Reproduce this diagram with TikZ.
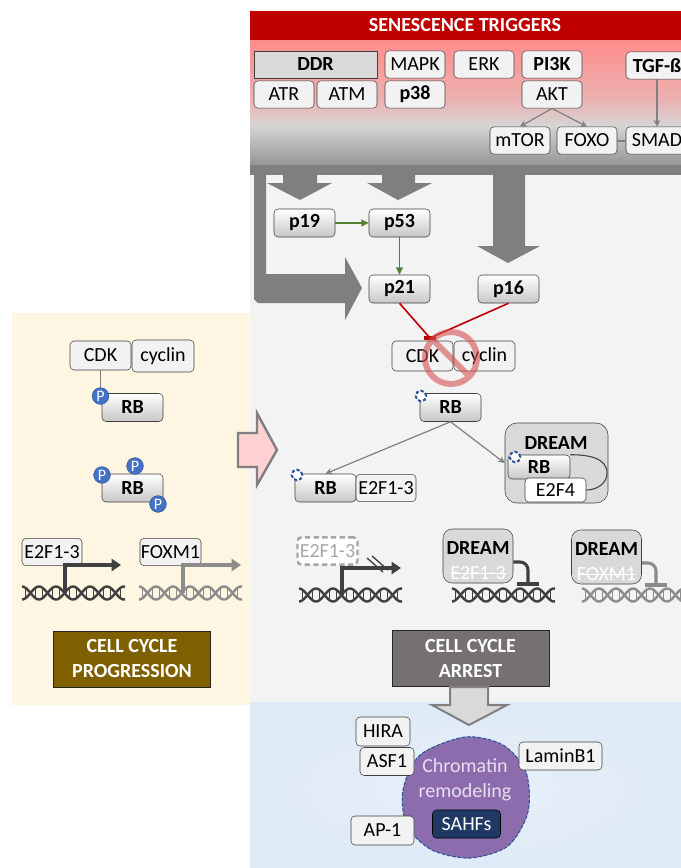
\documentclass[tikz,border=0pt]{standalone}
\usepackage{fontspec}
\setmainfont{Carlito}
\usetikzlibrary{arrows.meta}

\newsavebox\strikebox
\newcommand\struck[1]{\sbox\strikebox{#1}\rlap{\rule[0.3em]{\wd\strikebox}{0.8pt}}\usebox\strikebox}

\definecolor{trigred}{RGB}{192,0,0}
\definecolor{hdpink}{RGB}{255,140,140}
\definecolor{hdmid}{RGB}{236,178,178}
\definecolor{hdlight}{RGB}{215,212,212}
\definecolor{hddark}{RGB}{150,150,150}
\definecolor{boxfill}{RGB}{242,242,242}
\definecolor{boxline}{RGB}{64,64,64}
\definecolor{panelgray}{RGB}{243,243,243}
\definecolor{panelbeige}{RGB}{254,245,226}
\definecolor{panelblue}{RGB}{222,234,246}
\definecolor{glowblue}{RGB}{232,240,250}
\definecolor{bigarrow}{RGB}{127,127,127}
\definecolor{pgreen}{RGB}{84,130,53}
\definecolor{pblue}{RGB}{68,114,196}
\definecolor{pbluedark}{RGB}{47,85,151}
\definecolor{progbrown}{RGB}{127,96,0}
\definecolor{arrestgray}{RGB}{118,113,113}
\definecolor{dreamgray}{RGB}{217,217,217}
\definecolor{dnadark}{RGB}{64,64,64}
\definecolor{dnalight}{RGB}{140,140,140}
\definecolor{nored}{RGB}{214,80,80}
\definecolor{pinkarrow}{RGB}{255,204,204}
\definecolor{chromviolet}{RGB}{140,108,172}
\definecolor{chromtext}{RGB}{232,222,242}
\definecolor{sahfblue}{RGB}{31,56,100}

\tikzset{
  prot/.style={draw=boxline, fill=boxfill, rounded corners=3pt, minimum width=45pt,
    minimum height=20.5pt, inner sep=0pt, font=\fontsize{15}{18}\selectfont},
  protbold/.style={prot, font=\fontsize{15}{18}\selectfont\bfseries},
  protshade/.style={protbold, minimum width=45.75pt, minimum height=21pt, top color=white, bottom color=black!22},
  phos/.style={circle, draw=pbluedark, fill=pblue, text=white, minimum size=12.5pt, inner sep=0pt,
    font=\fontsize{12}{13}\selectfont},
  unphos/.style={circle, draw=pbluedark, dash pattern=on 2.5pt off 1.5pt, line width=1.5pt, fill=white,
    minimum size=8pt, inner sep=0pt},
  ghost/.style={prot, draw=black!35, dash pattern=on 4pt off 2.5pt, line width=1.8pt, fill=white, text=black!35},
  dreambox/.style={draw=boxline, fill=dreamgray, rounded corners=7pt, minimum width=52.5pt,
    minimum height=40.5pt, inner sep=0pt},
  dreamtext/.style={align=center, font=\fontsize{15}{18.75}\selectfont},
  outcome/.style={draw=black!85, minimum width=118pt, minimum height=42pt, align=center, text=white,
    font=\fontsize{15}{18.75}\selectfont\bfseries},
  link/.style={draw=black!50, line width=0.9pt, -{Stealth[length=5pt,width=5pt]}},
  act/.style={draw=pgreen, line width=1.1pt, -{Triangle[length=5.5pt,width=5pt]}},
  inhib/.style={draw=trigred, line width=1.2pt},
  promoter/.style={line width=2.3pt, -{Triangle[length=7pt,width=9pt]}},
  repress/.style={line width=2.3pt, rounded corners=6pt},
  helix/.pic={
    \draw[line width=1.8pt] plot[domain=0:103,samples=90,smooth] (\x,{6.5*cos(\x/34*360)})
      plot[domain=0:103,samples=90,smooth] (\x,{-6.5*cos(\x/34*360)});
    \foreach \r in {3.5,13.5,20.5,30.5,37.5,47.5,54.5,64.5,71.5,81.5,88.5,98.5}
      \draw[line width=1.3pt] (\r,-5) -- (\r,5);
  }
}

\begin{document}
\begin{tikzpicture}[x=0.75pt,y=-0.75pt]
  \useasboundingbox (0,0) rectangle (681,868);
  \fill[white] (0,0) rectangle (681,868);
  \fill[panelbeige] (12,313) rectangle (250,705);
  \fill[panelgray] (250,165) rectangle (681,702);
  \fill[panelblue] (250,702) rectangle (681,868);
  \shade[inner color=glowblue, outer color=panelblue] (465,790) ellipse[x radius=210, y radius=78];
  \fill[trigred] (250,11) rectangle (681,40);
  \shade[top color=hdpink, bottom color=hdmid] (250,40) rectangle (681,100);
  \shade[top color=hdmid, bottom color=hdlight] (250,100) rectangle (681,125);
  \shade[top color=hdlight, bottom color=hddark] (250,125) rectangle (681,165);
  \fill[bigarrow] (250,165) rectangle (681,175);

  \fill[bigarrow] (283,175) -- (317,175) -- (317,183) -- (332,183) -- (300,200) -- (267,183) -- (283,183) -- cycle;
  \fill[bigarrow] (382,175) -- (415,175) -- (415,183) -- (432,183) -- (398,200) -- (367,183) -- (382,183) -- cycle;
  \fill[bigarrow] (493,175) -- (525,175) -- (525,246) -- (540,246) -- (508,263) -- (477,246) -- (493,246) -- cycle;
  \fill[bigarrow] (254,175) -- (266,175) -- (266,274) -- (345,274) -- (345,257) -- (362,288)
    -- (345,320) -- (345,303) -- (258,303) -- (254,299) -- cycle;

  \node[font=\fontsize{15}{18}\selectfont\bfseries, text=white] (title) at (465,25) {SENESCENCE TRIGGERS};
  \node[protbold, rounded corners=0pt, fill=dreamgray, minimum width=92.25pt] (ddr) at (315.5,64.5) {DDR};
  \node[prot] (atr) at (284,94.5) {ATR};
  \node[prot] (atm) at (347,94.5) {ATM};
  \node[prot] (mapk) at (415,64.5) {MAPK};
  \node[protbold] (p38) at (415,94.5) {p38};
  \node[prot] (erk) at (484,64.5) {ERK};
  \node[protbold] (pi3k) at (552,64.5) {PI3K};
  \node[prot] (akt) at (552,94.5) {AKT};
  \node[protbold, minimum width=46.5pt] (tgf) at (657,65.5) {TGF-ß};
  \node[prot] (mtor) at (520,140.5) {mTOR};
  \node[prot] (foxo) at (587,140.5) {FOXO};
  \node[prot, minimum width=46.5pt] (smad) at (657,140.5) {SMAD};
  \draw[link] (akt.south) -- (mtor.north);
  \draw[link] (akt.south) -- (foxo.north);
  \draw[link] (tgf.south) -- (smad.north);
  \draw[black!50, line width=1.5pt] (foxo.east) -- (smad.west);

  \node[protshade] (p19) at (304.5,223) {p19};
  \node[protshade] (p53) at (399.5,223) {p53};
  \node[protshade] (p21) at (399.5,289) {p21};
  \node[protshade] (p16) at (508.5,289) {p16};
  \draw[act] (p19) -- (p53);
  \draw[act] (p53) -- (p21);
  \coordinate (block) at (430,338);
  \draw[inhib] (p21.south) -- (block);
  \draw[inhib] (p16.south) -- (block);
  \draw[trigred, line width=2.5pt] (block) ++(-6,0) -- ++(12,0);

  \node[prot, minimum width=45.75pt, minimum height=22.5pt] (cdk) at (422.5,356) {CDK};
  \node[prot, minimum width=45.75pt, minimum height=22.5pt] (cyc) at (484.5,356) {cyclin};
  \coordinate (nosign) at (451,358);
  \draw[nored, line width=4.5pt, draw opacity=0.6] (nosign) circle[radius=26]
    (nosign) ++(-18.5,-18.5) -- ++(37,37);

  \node[protshade] (rb) at (450.5,407.5) {RB};
  \node[unphos] (rbu) at (421,396) {};
  \node[protshade] (rbl) at (325.5,488) {RB};
  \node[prot] (e2fl) at (386,488) {E2F1-3};
  \node[unphos] (rblu) at (297,475) {};
  \node[dreambox, minimum width=77.25pt, minimum height=60pt, rounded corners=9pt] (dream) at (556.5,463) {};
  \node[dreamtext, font=\fontsize{15}{18}\selectfont\bfseries] (dreamtxt) at (556,443) {DREAM};
  \node[protshade, minimum width=46.5pt, minimum height=18pt] (rbi) at (539,467) {RB};
  \node[prot, minimum width=45.75pt, minimum height=18pt, fill=white] (e2f4) at (555.5,490) {E2F4};
  \coordinate (loop) at (607,473);
  \draw[boxline, line width=0.8pt] (rbi.north east) to[out=0,in=90] (loop) to[out=-90,in=0] (e2f4.east);
  \node[unphos] (rbiu) at (515,457) {};
  \draw[link] (rb.south) -- (rbl.north);
  \draw[link] (rb.south) -- (dream.west);

  \pic[dnadark] at (299,595) {helix};
  \node[ghost] (e2fg) at (327.5,551) {E2F1-3};
  \coordinate (tssc) at (342,595);
  \coordinate (tipc) at (401,568);
  \draw[promoter, dnadark] (tssc) |- (tipc);
  \draw[dnadark, line width=1pt] (tipc) ++(-34,-10) -- ++(16,14) (tipc) ++(-29,-12) -- ++(16,14);

  \pic[dnadark] at (452,595) {helix};
  \node[dreambox] (dream2) at (478,556) {};
  \node[dreamtext] (dream2txt) at (478,561) {\bfseries DREAM\\\textcolor{white}{\struck{E2F1-3}}};
  \coordinate (bar2) at (528,584);
  \draw[repress, dnadark] ([yshift=-4.5pt]dream2.east) -| (bar2);
  \draw[dnadark, line width=3pt] (bar2) ++(-11,0) -- ++(22,0);

  \pic[dnalight] at (582,595) {helix};
  \node[dreambox] (dream3) at (606.5,557) {};
  \node[dreamtext] (dream3txt) at (606.5,562) {\bfseries DREAM\\\textcolor{white}{\struck{FOXM1}}};
  \coordinate (bar3) at (656,585);
  \draw[repress, dnalight] ([yshift=-4.5pt]dream3.east) -| (bar3);
  \draw[dnalight, line width=3pt] (bar3) ++(-11,0) -- ++(22,0);

  \node[prot, minimum width=45.75pt, minimum height=21.75pt] (cdkl) at (100.5,355.5) {CDK};
  \node[prot, minimum width=46.5pt, minimum height=24pt] (cycl) at (163,356) {cyclin};
  \node[protshade] (rbp) at (132.5,407.5) {RB};
  \node[phos] (p1) at (100.5,396) {P};
  \draw[black!50, line width=1pt] (cdkl.south) -- (p1.north);
  \node[protshade] (rbq) at (132.5,488) {RB};
  \node[phos] (p2) at (102,475) {P};
  \node[phos] (p3) at (135,466) {P};
  \node[phos] (p4) at (158,504) {P};

  \pic[dnadark] at (22,593) {helix};
  \pic[dnalight] at (139,593) {helix};
  \node[prot] (e2fp) at (52,552) {E2F1-3};
  \node[prot, minimum width=45.75pt] (foxm) at (170.5,552) {FOXM1};
  \coordinate (tss1) at (65,593);
  \coordinate (tip1) at (121,565);
  \draw[promoter, dnadark] (tss1) |- (tip1);
  \coordinate (tss2) at (183,593);
  \coordinate (tip2) at (241,565);
  \draw[promoter, dnalight] (tss2) |- (tip2);

  \node[outcome, fill=progbrown] (prog) at (132,659) {CELL CYCLE\\PROGRESSION};
  \node[outcome, fill=arrestgray] (arrest) at (470.5,658.5) {CELL CYCLE\\ARREST};

  \filldraw[fill=pinkarrow, fill opacity=0.85, draw=black!50, line width=1.8pt, line join=miter]
    (238,433) -- (257,433) -- (257,413) -- (277,450) -- (257,485) -- (257,467) -- (238,467) -- cycle;
  \filldraw[fill=dreamgray, draw=black!50, line width=1.5pt]
    (450,687) -- (488,687) -- (488,705) -- (507,705) -- (469,725) -- (432,705) -- (450,705) -- cycle;

  \draw[pbluedark, dash pattern=on 3pt off 1pt, line width=0.8pt, fill=chromviolet]
    plot[smooth cycle] coordinates {(465,737) (503,745) (526,772) (528,812) (508,846) (470,858) (432,850) (407,826) (403,790) (420,755)};
  \node[text=chromtext, align=center, font=\fontsize{15}{19}\selectfont] (chrom) at (465,780) {Chromatin\\remodeling};
  \node[prot, fill=sahfblue, text=white, draw=black, minimum width=51pt, minimum height=21pt] (sahf) at (466.5,824) {SAHFs};
  \node[prot, minimum width=40.5pt, minimum height=21.75pt] (hira) at (383,731.5) {HIRA};
  \node[prot, minimum width=40.5pt, minimum height=21pt] (asf) at (387,761.5) {ASF1};
  \node[prot, minimum width=62.25pt, minimum height=21pt] (lamin) at (560.5,756) {LaminB1};
  \node[prot, minimum width=47.25pt, minimum height=21.75pt] (ap1) at (382.5,830.5) {AP-1};
\end{tikzpicture}
\end{document}
